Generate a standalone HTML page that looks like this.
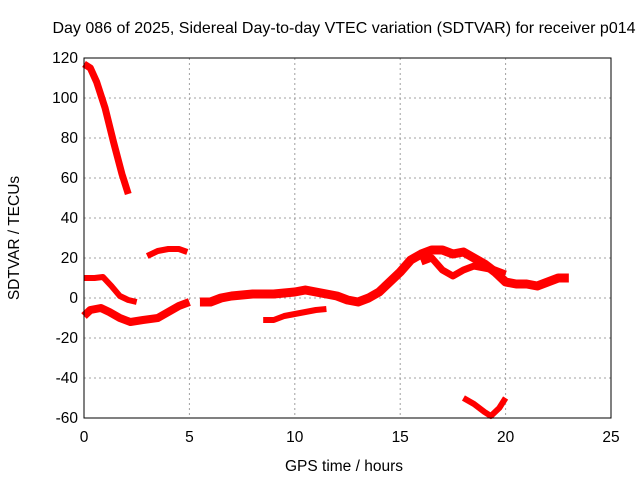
<!DOCTYPE html>
<html><head><meta charset="utf-8"><style>
body{margin:0;background:#fff;font-family:"Liberation Sans",sans-serif}
svg text{font-family:"Liberation Sans",sans-serif;font-size:15.5px;fill:#000}
</style></head><body>
<svg id="chart" width="640" height="480">
<rect width="640" height="480" fill="#fff"/>
<text x="344" y="33" text-anchor="middle" style="font-size:16px">Day 086 of 2025, Sidereal Day-to-day VTEC variation (SDTVAR) for receiver p014</text>
<text x="344" y="471" text-anchor="middle">GPS time / hours</text>
<text x="0" y="0" text-anchor="middle" transform="translate(19,238) rotate(-90)">SDTVAR / TECUs</text>
<g id="grid"></g><g id="series"></g>
<rect x="84" y="58" width="527" height="360" fill="none" stroke="#000" stroke-width="1"/>
</svg>
<script>
const xTicks=[0,5,10,15,20,25];
const yTicks=[120,100,80,60,40,20,0,-20,-40,-60];
const seriesTop=[[0,117],[0.3,115],[0.6,108],[1.0,95],[1.4,78],[1.8,62],[2.1,52]];
const seriesB=[[3.0,21],[3.5,23.5],[4,24.5],[4.5,24.5],[4.9,23]];
const seriesC=[[0,10],[0.5,10],[0.9,10.5],[1.3,6],[1.7,1],[2.1,-1],[2.5,-2]];
const seriesD=[[0,-9],[0.3,-6],[0.8,-5],[1.2,-7],[1.7,-10],[2.2,-12],[2.8,-11],[3.5,-10],[4,-7],[4.5,-4],[5,-2]];
const seriesE=[[5.5,-2],[6,-2],[6.5,0],[7,1],[8,2],[9,2],[10,3],[10.5,4],[11,3],[12,1],[12.5,-1],[13,-2],[13.5,0],[14,3],[14.5,8],[15,13],[15.5,19],[16,22],[16.5,24],[17,24],[17.5,22],[18,23],[18.5,20],[19,17],[19.5,13],[20,8],[20.5,7],[21,7],[21.5,6],[22,8],[22.5,10],[23,10]];
const seriesE2=[[16,18],[16.5,20],[17,14],[17.5,11],[18,14],[18.5,16],[19,15],[19.5,14],[20,12]];
const seriesF=[[8.5,-11],[9,-11],[9.5,-9],[10,-8],[10.5,-7],[11,-6],[11.5,-5.5]];
const seriesG=[[18,-50],[18.5,-53],[19,-57],[19.3,-59],[19.7,-55],[20,-50]];
const allSeries=[seriesTop,seriesB,seriesC,seriesD,seriesE,seriesE2,seriesF,seriesG];
const widths=[7,6,6,8,9,7,6,6];
const X=v=>84+v*(527/25), Y=v=>298-v*2;
const NS="http://www.w3.org/2000/svg";
const g=document.getElementById('grid'), s=document.getElementById('series');
function mk(t,a,p){const e=document.createElementNS(NS,t);for(const k in a)e.setAttribute(k,a[k]);p.appendChild(e);return e;}
xTicks.forEach(v=>{
 if(v>0&&v<25){const l=mk('line',{x1:X(v),x2:X(v),y1:58,y2:418,stroke:'#a0a0a0','stroke-dasharray':'2,3'},g);
 
 }
 const t=mk('text',{x:X(v),y:442,'text-anchor':'middle'},g);t.textContent=v;
 
 
});
yTicks.forEach(v=>{
 if(v>-60&&v<120){const l=mk('line',{x1:84,x2:611,y1:Y(v),y2:Y(v),stroke:'#a0a0a0','stroke-dasharray':'2,3'},g);
 
 }
 const t=mk('text',{x:78,y:Y(v)+5,'text-anchor':'end'},g);t.textContent=v;
 
 
});
allSeries.forEach((d,i)=>{
 const p=mk('polyline',{points:d.map(q=>X(q[0])+','+Y(q[1])).join(' '),fill:'none',stroke:'#ff0000','stroke-width':widths[i],'stroke-linejoin':'round'},s);
 
 
});
</script>
</body></html>
